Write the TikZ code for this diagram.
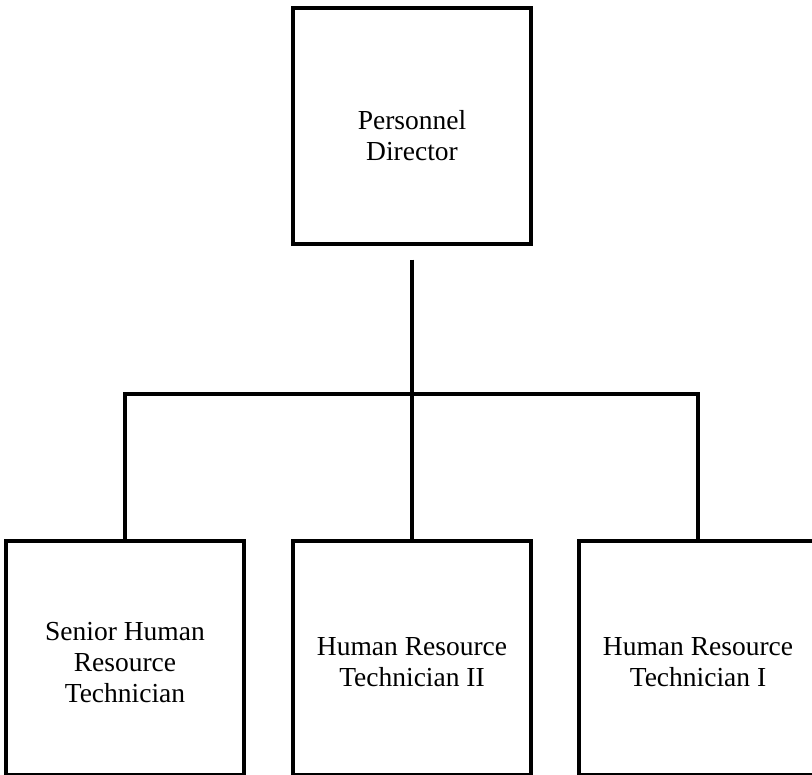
\documentclass[tikz,border=0pt]{standalone}
\usepackage{fontspec}
\setmainfont{Liberation Serif}
\begin{document}
\begin{tikzpicture}[x=1pt,y=-1pt,
  post/.style={draw=black,line width=3.1pt,rectangle,inner sep=0pt,fill=white},
  caption/.style={align=center,inner sep=0pt,font=\fontsize{27.5}{31}\selectfont},
  link/.style={draw=black,line width=3.1pt}]
  \useasboundingbox (0,0) rectangle (812,775);
  \clip (0,0) rectangle (812,775);
  % director
  \node[post,minimum width=238pt,minimum height=236pt,
    label={[caption,yshift=-10pt]center:{Personnel\\Director}}] (dir) at (412,126) {};
  % staff row
  \node[post,minimum width=238pt,minimum height=234pt,
    label={[caption,yshift=-5pt]center:{Senior Human\\Resource\\Technician}}] (senior) at (125,658) {};
  \node[post,minimum width=238pt,minimum height=234pt,
    label={[caption,yshift=-4pt]center:{Human Resource\\Technician II}}] (tech2) at (412,658) {};
  \node[post,minimum width=238pt,minimum height=234pt,
    label={[caption,yshift=-4pt]center:{Human Resource\\Technician I}}] (tech1) at (698,658) {};
  % reporting lines
  \coordinate (bar) at (412,394);
  \draw[link,shorten <=14pt] (dir.south) -- (bar);
  \draw[link] (senior.north) |- (bar) -| (tech1.north);
  \draw[link] (bar) -- (tech2.north);
\end{tikzpicture}
\end{document}
